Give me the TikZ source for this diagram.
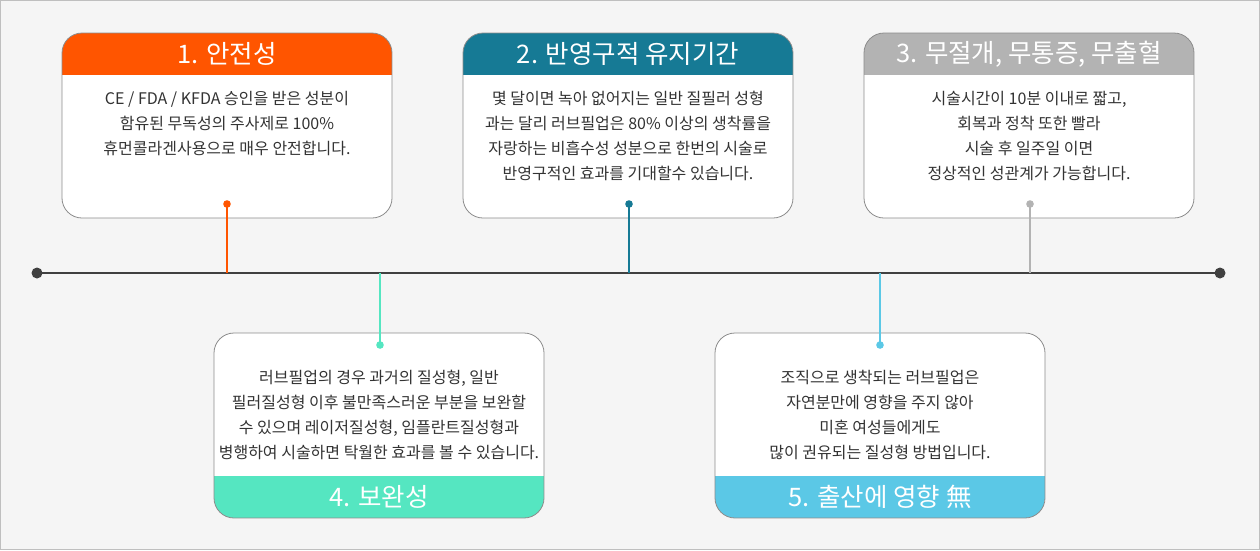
\documentclass[tikz,border=0pt]{standalone}
\usepackage{fontspec}
\setmainfont{Noto Sans CJK KR}
\begin{document}
\begin{tikzpicture}[x=1pt,y=-1pt,
  body/.style={align=center,font=\fontsize{16}{25}\selectfont,text=black!80},
  ttl/.style={font=\fontsize{25.5}{28}\selectfont,text=white},
  bx/.style={draw=black!45,line width=0.8pt,rounded corners=20pt}]
\definecolor{cA}{HTML}{FF5500}\definecolor{cB}{HTML}{167A95}\definecolor{cC}{HTML}{B3B3B3}
\definecolor{cD}{HTML}{55E6C1}\definecolor{cE}{HTML}{5BC8E6}
\fill[black!4] (0,0) rectangle (1260,550);
\draw[black!25] (0.5,0.5) rectangle (1259.5,549.5);
\useasboundingbox (0,0) rectangle (1260,550);
% top boxes
\foreach \x/\c/\t in {62/cA/{1. 안전성},463/cB/{2. 반영구적 유지기간},864/cC/{3. 무절개, 무통증, 무출혈}}{
  \fill[white,rounded corners=20pt] (\x,33) rectangle ++(330,185);
  \begin{scope}\clip[rounded corners=20pt] (\x,33) rectangle ++(330,185);
  \fill[\c] (\x,33) rectangle ++(330,42);\end{scope}
  \draw[bx] (\x,33) rectangle ++(330,185);
  \node[ttl] at (\x+165,54) {\t};
}
\foreach \x/\c/\t in {214/cD/{4. 보완성},715/cE/{5. 출산에 영향 無}}{
  \fill[white,rounded corners=20pt] (\x,333) rectangle ++(330,185);
  \begin{scope}\clip[rounded corners=20pt] (\x,333) rectangle ++(330,185);
  \fill[\c] (\x,476) rectangle ++(330,42);\end{scope}
  \draw[bx] (\x,333) rectangle ++(330,185);
  \node[ttl] at (\x+165,497) {\t};
}
\node[body] (t1) at (227,124) {CE / FDA / KFDA 승인을 받은 성분이\\함유된 무독성의 주사제로 100\%\\휴먼콜라겐사용으로 매우 안전합니다.};
\node[body] (t2) at (628,136) {몇 달이면 녹아 없어지는 일반 질필러 성형\\과는 달리 러브필업은 80\% 이상의 생착률을\\자랑하는 비흡수성 성분으로 한번의 시술로\\반영구적인 효과를 기대할수 있습니다.};
\node[body] (t3) at (1029,136) {시술시간이 10분 이내로 짧고,\\회복과 정착 또한 빨라\\시술 후 일주일 이면\\정상적인 성관계가 가능합니다.};
\node[body] (t4) at (379,415) {러브필업의 경우 과거의 질성형, 일반\\필러질성형 이후 불만족스러운 부분을 보완할\\수 있으며 레이저질성형, 임플란트질성형과\\병행하여 시술하면 탁월한 효과를 볼 수 있습니다.};
\node[body] (t5) at (880,415) {조직으로 생착되는 러브필업은\\자연분만에 영향을 주지 않아\\미혼 여성들에게도\\많이 권유되는 질성형 방법입니다.};
% timeline
\coordinate (L) at (37,273); \coordinate (R) at (1220,273);
\draw[black!75,line width=1.3pt] (L) -- (R);
\fill[black!75] (L) circle (5.5) (R) circle (5.5);
\foreach \n/\x/\y/\c in {a/227/204/cA,b/629/204/cB,c/1030/204/cC,d/380/345/cD,e/880/345/cE}{
  \coordinate (\n) at (\x,\y); \coordinate (\n t) at (\x,273);
  \draw[\c,line width=1.5pt] (\n) -- (\n t); \fill[\c] (\n) circle (3.8);
}
\end{tikzpicture}
\end{document}
